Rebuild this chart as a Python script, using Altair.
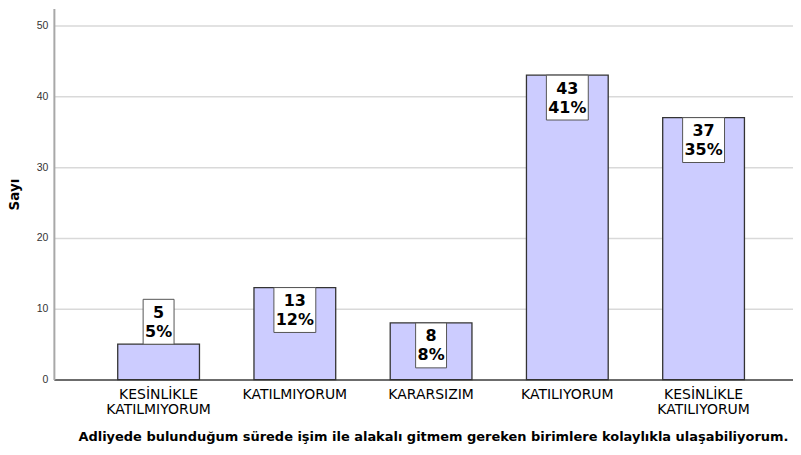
import altair as alt
import pandas as pd

categories = ["KESİNLİKLE|KATILMIYORUM", "KATILMIYORUM", "KARARSIZIM", "KATILIYORUM", "KESİNLİKLE|KATILIYORUM"]
counts = [5, 13, 8, 43, 37]
percents = [5, 12, 8, 41, 35]
y_ticks = [0, 10, 20, 30, 40, 50]

df = pd.DataFrame({
    "cat": categories,
    "count": counts,
    "pct": percents,
})
df["label"] = [f"{c}\n{p}%" for c, p in zip(counts, percents)]
df["pctlabel"] = [f"{p}%" for p in percents]

BOXH = 6.34  # box height in data units (~45px)

xenc = alt.X(
    "cat:N",
    sort=categories,
    scale=alt.Scale(paddingInner=0.4, paddingOuter=0.4125, align=0.568),
    axis=alt.Axis(
        title="Adliyede bulunduğum sürede işim ile alakalı gitmem gereken birimlere kolaylıkla ulaşabiliyorum.",
        labelAngle=0,
        labelExpr="split(datum.label, '|')",
        labelFont="DejaVu Sans",
        labelFontSize=14,
        labelColor="#000000",
        labelLineHeight=15,
        labelPadding=8,
        labelBaseline="top",
        ticks=False,
        grid=False,
        domainColor="#444444",
        domainWidth=1.5,
        titleFont="DejaVu Sans",
        titleFontWeight="bold",
        titleFontSize=13,
        titleColor="#000000",
        titleX=380,
        titleY=57,
        titleAlign="center",
        titleBaseline="middle",
    ),
)

yscale = alt.Scale(domain=[0, 52.4], nice=False, zero=True)

bars = alt.Chart(df).mark_bar(
    color="#ccccff", stroke="#333333", strokeWidth=1.3
).encode(
    x=xenc,
    y=alt.Y(
        "count:Q",
        scale=yscale,
        axis=alt.Axis(
            values=y_ticks,
            title="Sayı",
            ticks=False,
            grid=True,
            gridColor="#d9d9d9",
            gridWidth=1.5,
            domainColor="#a8a8a8",
            domainWidth=2,
            labelFont="Liberation Sans",
            labelFontSize=10.5,
            labelColor="#333333",
            labelPadding=6,
            titleFont="DejaVu Sans",
            titleFontWeight="bold",
            titleFontSize=13.5,
            titleColor="#000000",
            titleX=-39,
            titleAlign="center",
            titleBaseline="middle",
        ),
    ),
)

boxes = alt.Chart(df).transform_calculate(
    lo=f"datum.count >= 6.5 ? datum.count - {BOXH} : datum.count",
    hi=f"datum.count >= 6.5 ? datum.count : datum.count + {BOXH}",
    boxw="length(datum.pctlabel) * 11 + 9",
).mark_bar(
    color="white", stroke="#555555", strokeWidth=1
).encode(
    x=alt.X("cat:N", sort=categories),
    y=alt.Y("lo:Q", scale=yscale),
    y2="hi:Q",
    size=alt.Size("boxw:Q", scale=None, legend=None),
)

texts = alt.Chart(df).transform_calculate(
    mid=f"datum.count >= 6.5 ? datum.count - {BOXH}/2 : datum.count + {BOXH}/2",
).mark_text(
    font="DejaVu Sans", fontWeight="bold", fontSize=16, lineBreak="\n",
    lineHeight=19, baseline="middle", align="center", color="#000000", dy=-9,
).encode(
    x=alt.X("cat:N", sort=categories),
    y=alt.Y("mid:Q", scale=yscale),
    text="label:N",
)

chart = alt.layer(bars, boxes, texts).properties(
    width=741,
    height=372,
    autosize=alt.AutoSizeParams(type="none"),
    padding={"left": 46, "top": 0, "right": 0, "bottom": 75},
    background="white",
).configure_view(stroke=None)

chart.save("out.html", embed_options={"renderer": "svg", "actions": False})
